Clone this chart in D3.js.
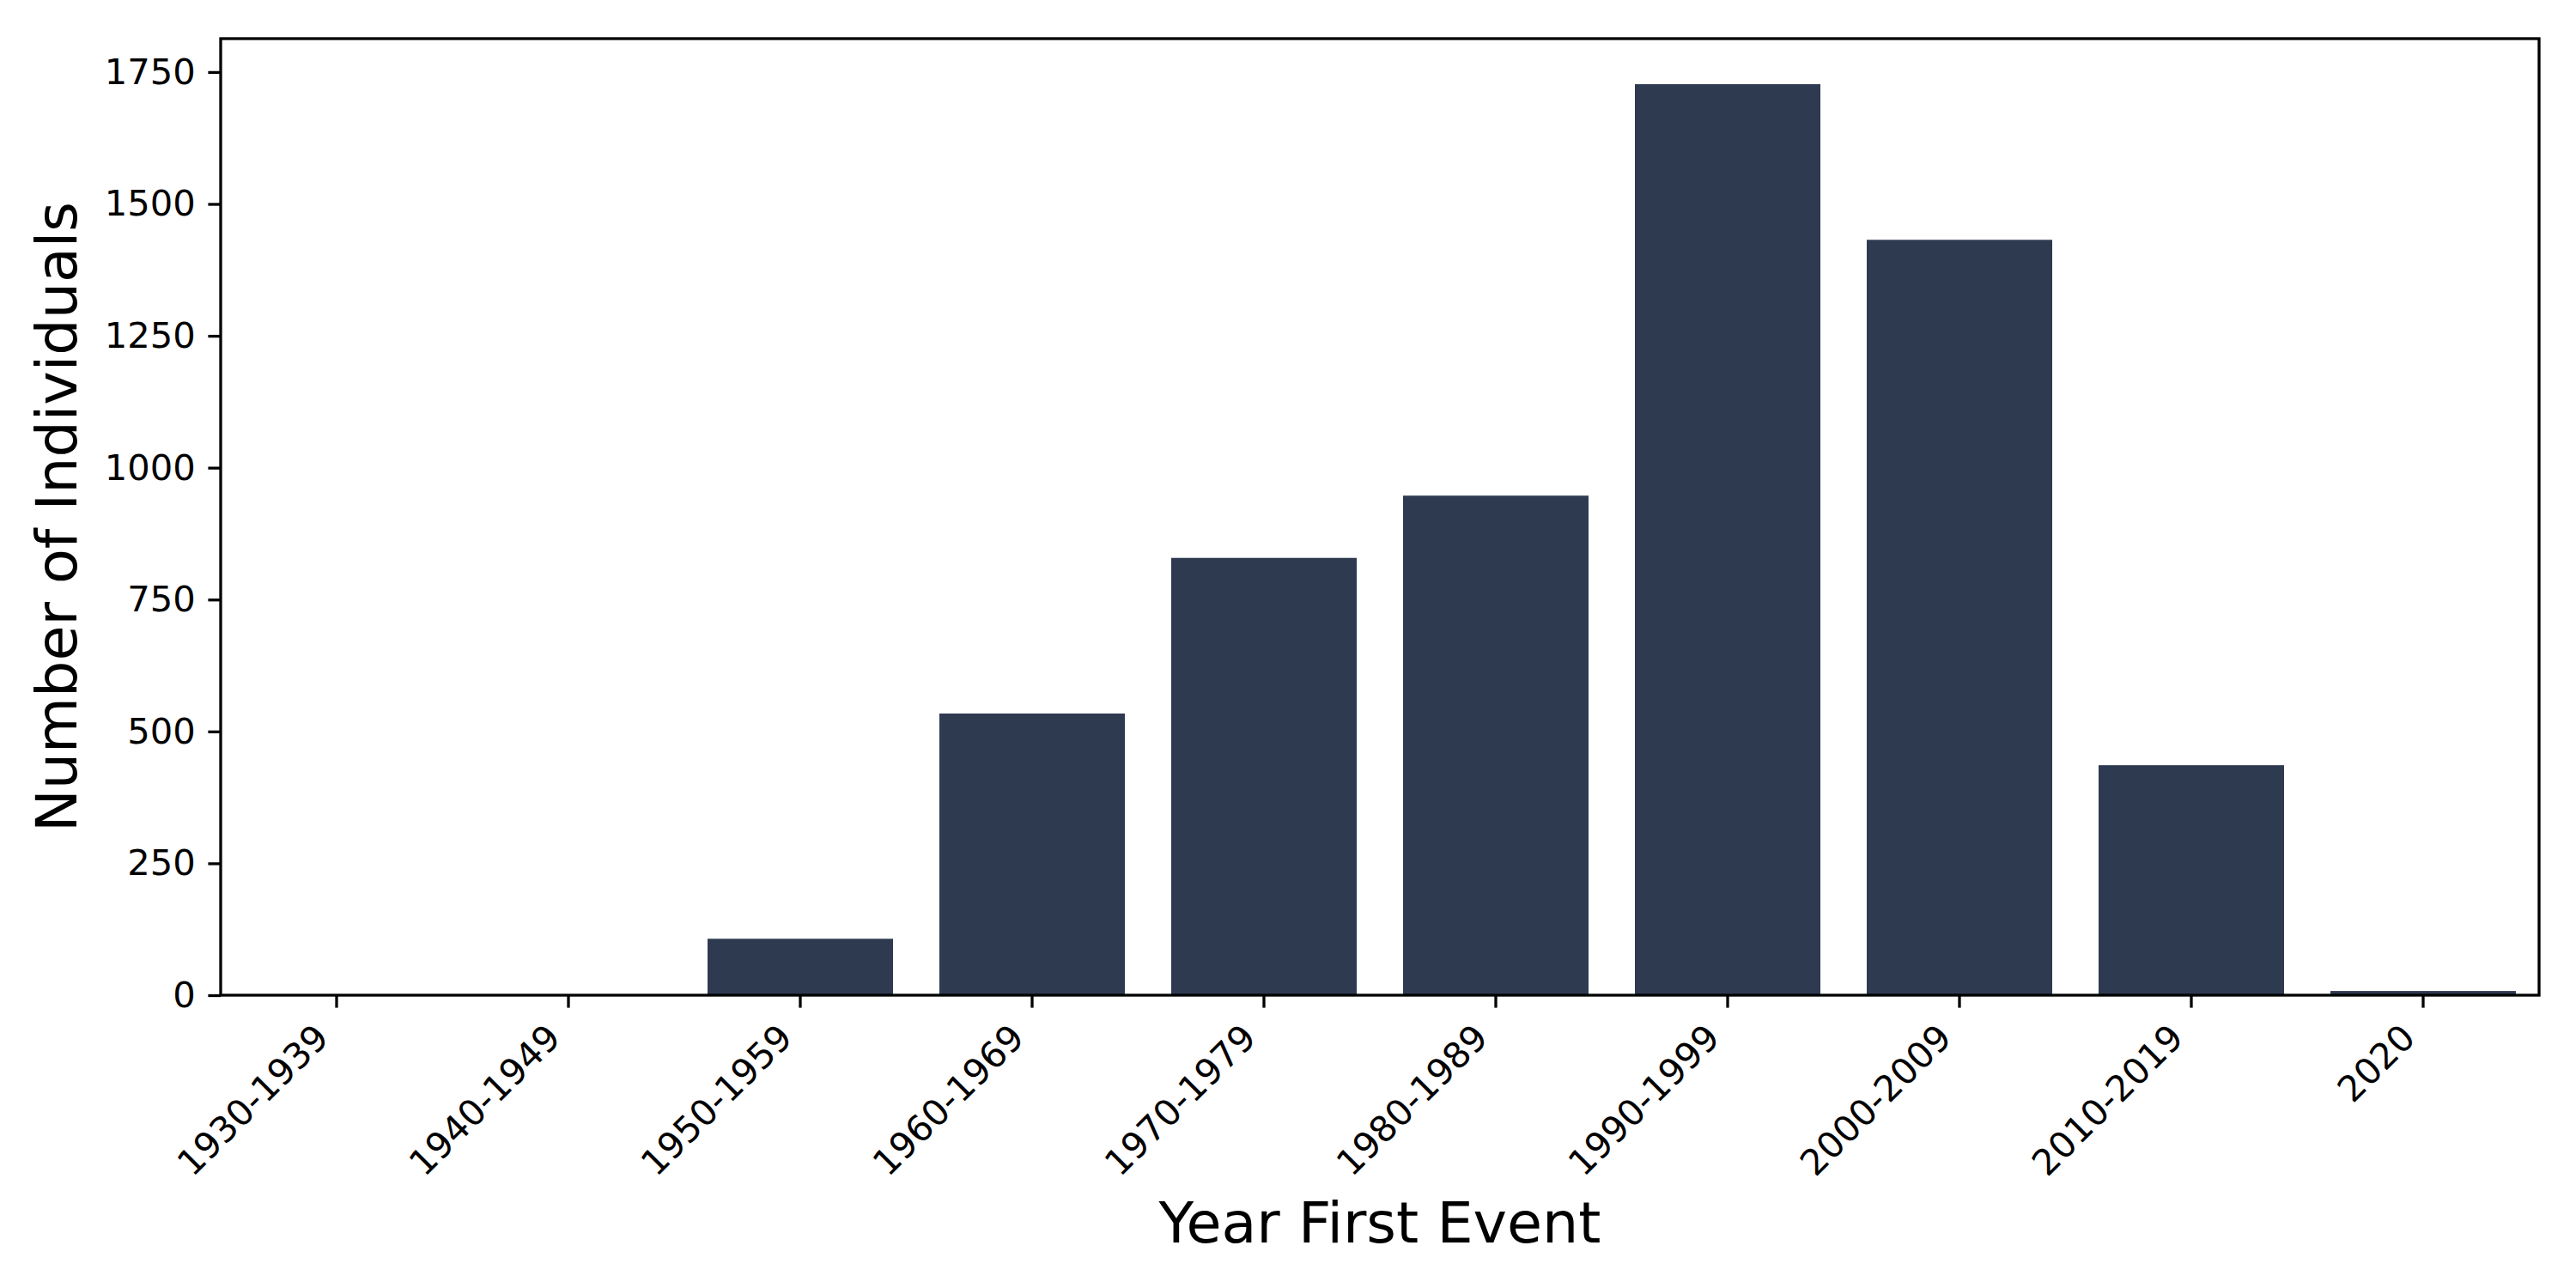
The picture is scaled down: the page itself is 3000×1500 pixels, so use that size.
<!DOCTYPE html>
<html>
<head>
<meta charset="utf-8">
<script src="https://d3js.org/d3.v7.min.js"></script>
<style>
  body { margin: 0; background: #fff; }
  text { font-family: "DejaVu Sans", sans-serif; fill: #000; }
</style>
</head>
<body>
<svg id="chart" width="3000" height="1500"></svg>
<script>
// data
var categories = ["1930-1939", "1940-1949", "1950-1959", "1960-1969", "1970-1979",
                  "1980-1989", "1990-1999", "2000-2009", "2010-2019", "2020"];
var counts = [1, 1, 107, 534, 829, 947, 1727, 1432, 436, 8];
var yTicks = [0, 250, 500, 750, 1000, 1250, 1500, 1750];

var svg = d3.select("#chart");
var plotLeft = 257, plotRight = 2957, plotTop = 45, plotBottom = 1159;
var tickLen = 14.6, lineW = 3.3;

svg.append("rect").attr("width", 3000).attr("height", 1500).attr("fill", "#fff");

var x = d3.scaleBand()
          .domain(categories)
          .range([plotLeft, plotRight])
          .paddingInner(0.2)
          .paddingOuter(0.1);

var y = d3.scaleLinear()
          .domain([0, d3.max(counts) * 1.05])
          .range([plotBottom, plotTop]);

// bars
svg.append("g")
   .selectAll("rect")
   .data(counts)
   .enter()
   .append("rect")
   .attr("x", function(d, i) { return x(categories[i]); })
   .attr("width", x.bandwidth())
   .attr("y", function(d) { return y(d); })
   .attr("height", function(d) { return plotBottom - y(d); })
   .attr("fill", "#2e3a50");

// x axis
var gx = svg.append("g")
            .attr("transform", "translate(0," + plotBottom + ")")
            .call(d3.axisBottom(x).tickSize(tickLen).tickSizeOuter(0));
gx.select(".domain").remove();
gx.selectAll("line").attr("stroke", "#000").attr("stroke-width", lineW);
gx.selectAll("text")
  .attr("x", 0)
  .attr("y", 0)
  .attr("dy", null)
  .attr("text-anchor", "end")
  .attr("transform", "translate(-7,52) rotate(-45)")
  .style("font-size", "41.7px")
  .style("font-family", "DejaVu Sans");

// y axis
var gy = svg.append("g")
            .attr("transform", "translate(" + plotLeft + ",0)")
            .call(d3.axisLeft(y).tickValues(yTicks).tickSize(tickLen).tickPadding(14.6).tickFormat(d3.format("d")));
gy.select(".domain").remove();
gy.selectAll("line").attr("stroke", "#000").attr("stroke-width", lineW);
gy.selectAll("text")
  .style("font-size", "41.7px")
  .style("font-family", "DejaVu Sans");

// frame
svg.append("rect")
   .attr("x", plotLeft)
   .attr("y", plotTop)
   .attr("width", plotRight - plotLeft)
   .attr("height", plotBottom - plotTop)
   .attr("fill", "none")
   .attr("stroke", "#000")
   .attr("stroke-width", lineW);

// axis titles
svg.append("text")
   .attr("x", (plotLeft + plotRight) / 2)
   .attr("y", 1447)
   .attr("text-anchor", "middle")
   .style("font-size", "66.7px")
   .text("Year First Event");

svg.append("text")
   .attr("transform", "translate(89," + (plotTop + plotBottom) / 2 + ") rotate(-90)")
   .attr("text-anchor", "middle")
   .style("font-size", "66.7px")
   .text("Number of Individuals");
</script>
</body>
</html>
